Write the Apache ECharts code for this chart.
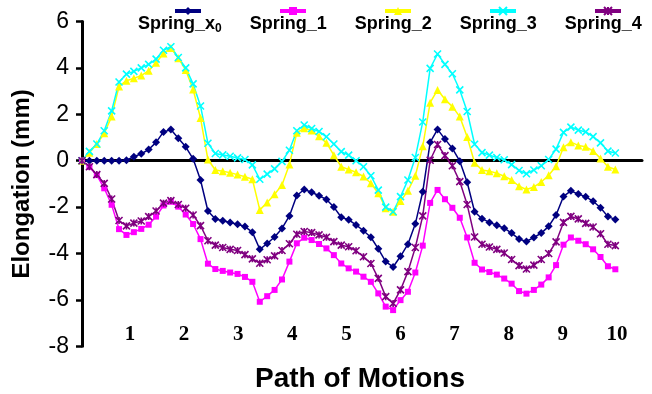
<!DOCTYPE html>
<html>
<head>
<meta charset="utf-8">
<script src="https://cdn.jsdelivr.net/npm/echarts@6/dist/echarts.min.js"></script>
<style>
  html, body { margin: 0; padding: 0; background: #fff; }
  #chart { width: 652px; height: 394px; }
</style>
</head>
<body>
<div id="chart"></div>
<script>
// Elongation of each spring (mm) along the recorded motion path, one reading per sample
const seriesNames = ['Spring_x0', 'Spring_1', 'Spring_2', 'Spring_3', 'Spring_4'];
const motionLabels = [1, 2, 3, 4, 5, 6, 7, 8, 9, 10];

const springX0 = [0, 0, 0, 0, 0, 0, 0.02, 0.17, 0.3, 0.48,
  0.79, 1.24, 1.34, 0.97, 0.6, 0.08, -0.83, -2.17, -2.51, -2.59,
  -2.66, -2.74, -2.84, -3.08, -3.82, -3.57, -3.29, -2.92, -2.38, -1.5,
  -1.24, -1.36, -1.51, -1.67, -2.0, -2.44, -2.55, -2.77, -3.02, -3.3,
  -3.8, -4.35, -4.58, -4.12, -3.6, -2.72, -1.34, 0.79, 1.35, 0.93,
  0.53, -0.02, -0.93, -2.2, -2.5, -2.66, -2.78, -2.91, -3.12, -3.38,
  -3.48, -3.31, -3.12, -2.83, -2.34, -1.54, -1.3, -1.44, -1.55, -1.75,
  -2.03, -2.41, -2.53];

const spring1 = [0, -0.27, -0.62, -1.19, -1.9, -2.95, -3.2, -3.08, -2.94, -2.76,
  -2.41, -1.93, -1.77, -1.98, -2.32, -2.73, -3.38, -4.44, -4.67, -4.75,
  -4.82, -4.88, -5.01, -5.22, -6.08, -5.84, -5.57, -5.12, -4.35, -3.56,
  -3.32, -3.42, -3.59, -3.78, -4.07, -4.43, -4.64, -4.78, -5.0, -5.22,
  -5.72, -6.29, -6.44, -6.01, -5.65, -4.82, -3.66, -1.82, -1.26, -1.66,
  -2.03, -2.46, -3.31, -4.4, -4.69, -4.8, -4.91, -5.08, -5.3, -5.62,
  -5.73, -5.57, -5.34, -5.03, -4.5, -3.62, -3.31, -3.45, -3.6, -3.82,
  -4.15, -4.55, -4.68];

const spring2 = [0, 0.34, 0.72, 1.18, 1.9, 3.2, 3.45, 3.55, 3.67, 3.88,
  4.22, 4.62, 4.86, 4.42, 3.91, 3.07, 1.84, 0.05, -0.4, -0.45,
  -0.52, -0.6, -0.69, -0.8, -2.12, -1.8, -1.45, -1.05, -0.16, 1.2,
  1.4, 1.3, 1.05, 0.77, 0.24, -0.26, -0.38, -0.5, -0.68, -0.97,
  -1.4, -2.05, -2.2, -1.74, -1.3, -0.65, 0.62, 2.5, 3.05, 2.65,
  2.33, 1.9, 1.02, -0.09, -0.4, -0.45, -0.54, -0.67, -0.83, -1.1,
  -1.24, -1.13, -0.92, -0.63, -0.24, 0.58, 0.8, 0.66, 0.6, 0.42,
  0.1, -0.26, -0.38];

const spring3 = [0, 0.4, 0.72, 1.29, 2.15, 3.39, 3.73, 3.85, 4.0, 4.15,
  4.38, 4.76, 4.91, 4.45, 4.0, 3.31, 2.36, 0.75, 0.31, 0.25,
  0.19, 0.12, 0.05, -0.18, -0.8, -0.58, -0.35, -0.03, 0.45, 1.29,
  1.54, 1.39, 1.26, 1.03, 0.72, 0.39, 0.24, 0.0, -0.26, -0.65,
  -1.27, -2.0, -2.2, -1.55, -0.83, 0.14, 1.67, 3.98, 4.6, 4.15,
  3.75, 3.05, 2.12, 0.71, 0.35, 0.24, 0.14, 0.04, -0.17, -0.42,
  -0.56, -0.4, -0.22, 0.05, 0.5, 1.22, 1.45, 1.32, 1.24, 1.04,
  0.77, 0.41, 0.33];

const spring4 = [0, -0.26, -0.6, -0.98, -1.65, -2.58, -2.81, -2.69, -2.6, -2.41,
  -2.17, -1.83, -1.72, -1.89, -2.05, -2.34, -2.8, -3.45, -3.64, -3.74,
  -3.82, -3.87, -4.05, -4.23, -4.42, -4.27, -4.1, -3.87, -3.58, -3.17,
  -3.05, -3.1, -3.2, -3.3, -3.49, -3.64, -3.71, -3.88, -4.14, -4.43,
  -5.07, -5.86, -6.15, -5.57, -4.78, -3.74, -2.38, 0.02, 0.7, 0.22,
  -0.22, -0.9, -1.89, -3.29, -3.6, -3.72, -3.82, -3.98, -4.26, -4.52,
  -4.67, -4.5, -4.26, -4.0, -3.5, -2.66, -2.4, -2.51, -2.7, -2.86,
  -3.15, -3.6, -3.66];

// sample number along the path (x position of each reading)
const samples = springX0.map((_, i) => i);

const sans = 'Liberation Sans, Arial, sans-serif';
const serif = 'Liberation Serif, Times New Roman, serif';

const crossPath = 'path://M0,0L10,10M10,0L0,10';
const asteriskPath = 'path://M0,0L10,10M10,0L0,10M5,0L5,10';

const styles = [
  { color: '#000080', symbol: 'diamond', size: 8 },
  { color: '#FF00FF', symbol: 'rect', size: 6 },
  { color: '#FFFF00', symbol: 'triangle', size: 8 },
  { color: '#00FFFF', symbol: crossPath, size: 7, stroke: true },
  { color: '#800080', symbol: asteriskPath, size: 7, stroke: true }
];
const values = [springX0, spring1, spring2, spring3, spring4];

const chart = echarts.init(document.getElementById('chart'), null, { renderer: 'canvas' });

chart.setOption({
  animation: false,
  backgroundColor: '#fff',
  title: {
    text: 'Path of Motions',
    left: 250,
    top: 360,
    textStyle: { fontFamily: sans, fontWeight: 'bold', fontSize: 28, color: '#000' }
  },
  legend: [
    {
      // marker row
      data: seriesNames,
      left: 168, top: 1, width: 560,
      itemWidth: 26, itemHeight: 10, itemGap: 75,
      formatter: () => '',
      lineStyle: { width: 4 },
      textStyle: { fontSize: 1 }
    },
    {
      // name row
      data: seriesNames,
      left: 128, top: 10, width: 600,
      icon: 'none',
      itemWidth: 0, itemGap: 23,
      formatter: name => name === 'Spring_x0' ? 'Spring_x{sub|0}' : name,
      textStyle: {
        fontFamily: sans, fontWeight: 'bold', fontSize: 18, color: '#000',
        rich: { sub: { fontFamily: sans, fontWeight: 'bold', fontSize: 12, color: '#000', padding: [9, 0, 0, 0] } }
      }
    }
  ],
  grid: [
    { left: 82, right: 10, top: 21.5, bottom: 47.7 },
    { left: 75.9, width: 541, top: 21.5, height: 300 }
  ],
  xAxis: [
    {
      type: 'value', gridIndex: 0, min: 0, max: 75.6,
      axisLine: { onZero: true, lineStyle: { color: '#000', width: 3 } },
      axisTick: { show: false }, axisLabel: { show: false }, splitLine: { show: false }
    },
    {
      type: 'value', gridIndex: 1, min: 0, max: 10, interval: 1,
      axisLine: { show: false }, axisTick: { show: false }, splitLine: { show: false },
      axisLabel: {
        margin: 3, color: '#000', fontFamily: serif, fontWeight: 'bold', fontSize: 21,
        formatter: v => motionLabels.includes(v) ? String(v) : ''
      }
    }
  ],
  yAxis: [
    {
      type: 'value', gridIndex: 0, min: -8, max: 6, interval: 2,
      name: 'Elongation (mm)', nameLocation: 'middle', nameGap: 48,
      nameTextStyle: { fontFamily: sans, fontWeight: 'bold', fontSize: 24, color: '#000' },
      axisLine: { show: true, lineStyle: { color: '#000', width: 3 } },
      axisTick: { show: true, length: 6, lineStyle: { color: '#000', width: 2.5 } },
      axisLabel: { margin: 13, color: '#000', fontFamily: sans, fontSize: 23 },
      splitLine: { show: false }
    },
    { type: 'value', gridIndex: 1, show: false, min: 0, max: 1 }
  ],
  series: seriesNames.map((name, k) => ({
    name,
    type: 'line',
    xAxisIndex: 0, yAxisIndex: 0,
    data: samples.map((x, i) => [x, values[k][i]]),
    symbol: styles[k].symbol,
    symbolSize: styles[k].size,
    showAllSymbol: true,
    lineStyle: { color: styles[k].color, width: 1.5 },
    itemStyle: styles[k].stroke
      ? { color: styles[k].color, borderColor: styles[k].color, borderWidth: 1.6 }
      : { color: styles[k].color, borderWidth: 0 }
  }))
});
</script>
</body>
</html>
